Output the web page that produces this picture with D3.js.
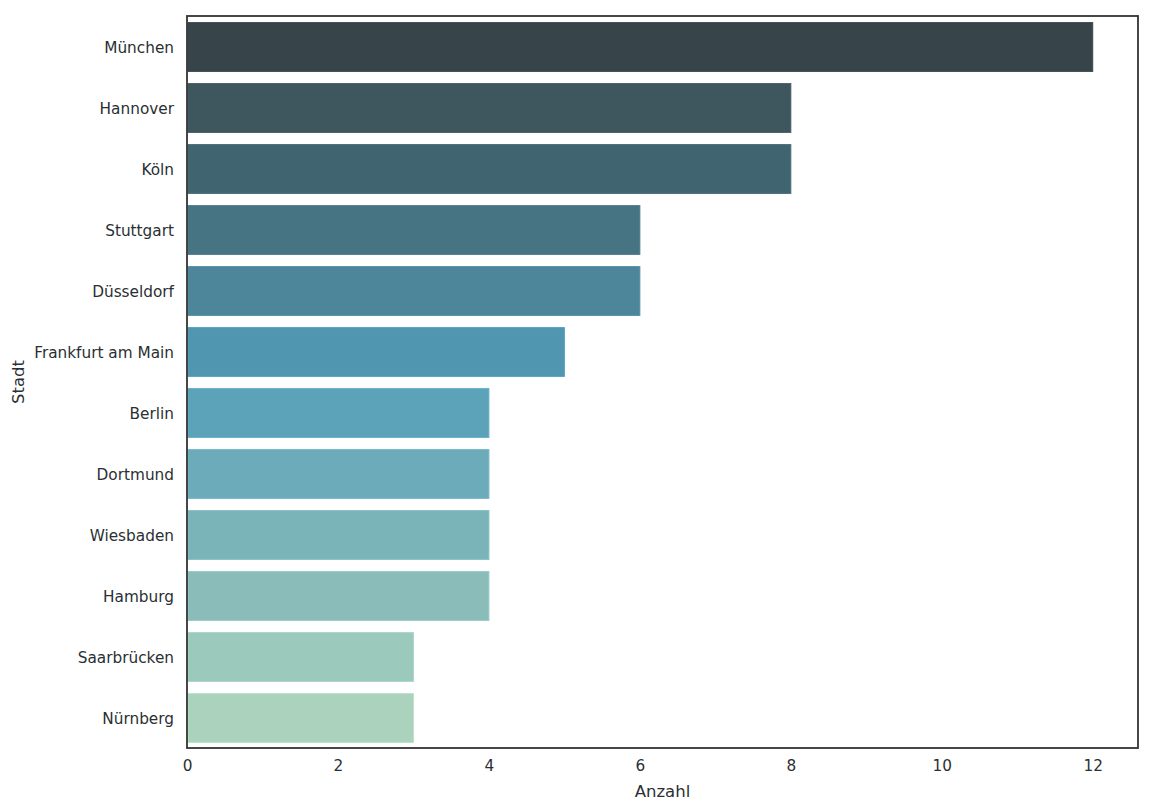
<!DOCTYPE html>
<html>
<head>
<meta charset="utf-8">
<script src="https://cdn.jsdelivr.net/npm/d3@7"></script>
<style>
  body { margin: 0; background: #fff; }
  svg { font-family: "DejaVu Sans", sans-serif; }
</style>
</head>
<body>
<div id="chart"></div>
<script>
// data
const cities = ['München', 'Hannover', 'Köln', 'Stuttgart', 'Düsseldorf', 'Frankfurt am Main',
  'Berlin', 'Dortmund', 'Wiesbaden', 'Hamburg', 'Saarbrücken', 'Nürnberg'];
const counts = [12, 8, 8, 6, 6, 5, 4, 4, 4, 4, 3, 3];
const palette = ['#37444a', '#3e565e', '#416570', '#477483', '#4d859b', '#5096b1',
  '#5ca3ba', '#6cabba', '#7ab4b9', '#8abdb9', '#9bc9bb', '#abd2bc'];
const xTicks = [0, 2, 4, 6, 8, 10, 12];

const width = 1154, height = 811;
const margin = {top: 16, right: 16, bottom: 63, left: 187};
const innerW = width - margin.left - margin.right;
const innerH = height - margin.top - margin.bottom;
const tickFont = 15.3;
const textColor = '#2a2f33';

const svg = d3.select('#chart').append('svg')
  .attr('width', width)
  .attr('height', height);

const g = svg.append('g')
  .attr('transform', `translate(${margin.left},${margin.top})`);

const x = d3.scaleLinear()
  .domain([0, 12.6])
  .range([0, innerW]);

const y = d3.scaleBand()
  .domain(cities)
  .range([0, innerH])
  .paddingInner(0.2)
  .paddingOuter(0.1);

// bars
g.append('g')
  .selectAll('rect')
  .data(cities)
  .enter().append('rect')
    .attr('x', x(0) + 1)
    .attr('y', d => y(d) + 0.5)
    .attr('width', (d, i) => x(counts[i]) - x(0) - 1)
    .attr('height', y.bandwidth())
    .attr('fill', (d, i) => palette[i])
    .attr('stroke', (d, i) => d3.color(palette[i]).brighter(0.2))
    .attr('stroke-width', 1);

// x axis labels (no tick marks)
const xAxis = g.append('g')
  .attr('transform', `translate(0,${innerH})`)
  .call(d3.axisBottom(x).tickValues(xTicks).tickSize(0).tickPadding(12));
xAxis.attr('font-size', null).attr('font-family', null);
xAxis.select('.domain').remove();
xAxis.selectAll('text')
  .style('font-size', tickFont + 'px')
  .style('font-family', '"DejaVu Sans", sans-serif')
  .attr('fill', textColor);

// y axis labels
const yAxis = g.append('g')
  .call(d3.axisLeft(y).tickSize(0).tickPadding(13));
yAxis.attr('font-size', null).attr('font-family', null);
yAxis.select('.domain').remove();
yAxis.selectAll('text')
  .style('font-size', tickFont + 'px')
  .style('font-family', '"DejaVu Sans", sans-serif')
  .attr('dy', '0.4em')
  .attr('fill', textColor);

// frame
g.append('rect')
  .attr('x', 0)
  .attr('y', 0)
  .attr('width', innerW)
  .attr('height', innerH)
  .attr('fill', 'none')
  .attr('stroke', '#333')
  .attr('stroke-width', 1.8);

// axis titles
svg.append('text')
  .attr('x', margin.left + innerW / 2)
  .attr('y', 797)
  .attr('text-anchor', 'middle')
  .style('font-size', '16.5px')
  .attr('fill', textColor)
  .text('Anzahl');

svg.append('text')
  .attr('transform', `translate(24,${margin.top + innerH / 2}) rotate(-90)`)
  .attr('text-anchor', 'middle')
  .style('font-size', '16.5px')
  .attr('fill', textColor)
  .text('Stadt');
</script>
</body>
</html>
